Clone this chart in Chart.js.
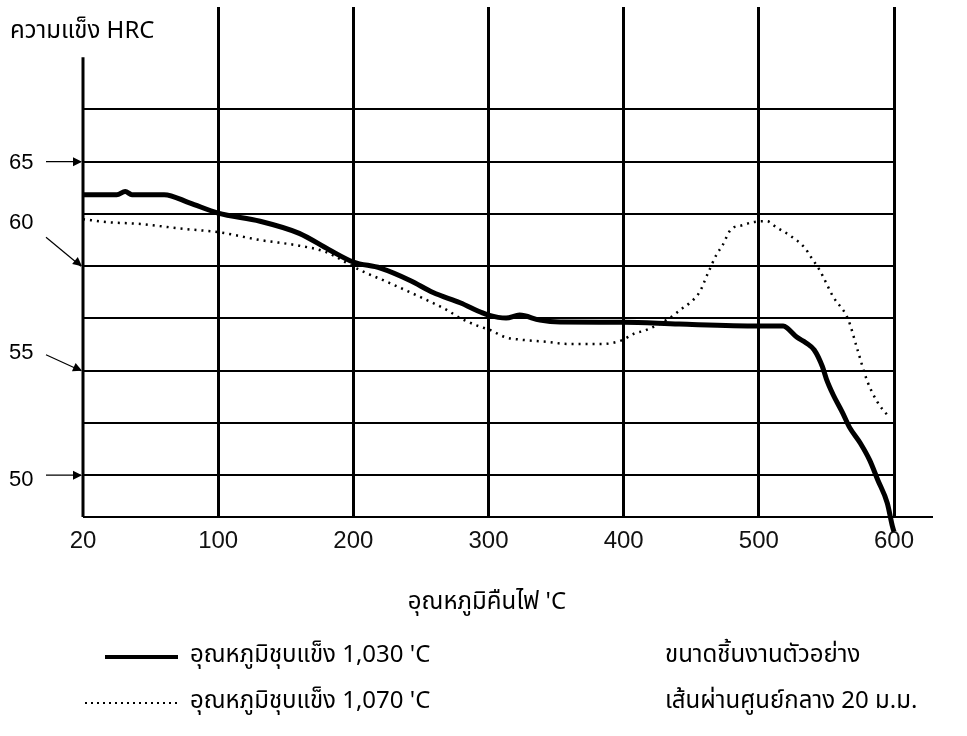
<!DOCTYPE html>
<html>
<head>
<meta charset="utf-8">
<script src="https://cdn.jsdelivr.net/npm/chart.js@4.4.1/dist/chart.umd.min.js"></script>
<style>
  html, body { margin: 0; padding: 0; background: #fff; }
  canvas { display: block; }
</style>
</head>
<body>
<canvas id="hrcChart" width="967" height="736"></canvas>
<script>
// tick labels of the temperature axis (grid is evenly spaced, 20 -> 100 takes a full step)
const xTickLabels = ['20', '100', '200', '300', '400', '500', '600'];
const yTickLabels = [65, 60, 55, 50];

// hardened at 1,030 C
const temp1030 = [20, 40, 45, 49, 68, 83, 100, 131, 160, 182, 200, 220, 242, 259, 279, 294, 300, 313, 323, 338, 353, 400, 441, 500, 518, 521, 528, 535, 541, 547, 550, 555, 562, 567, 575, 582, 588, 595, 599, 600];
const hrc1030 = [63.42, 63.42, 63.57, 63.42, 63.42, 63.03, 62.54, 62.15, 61.57, 60.79, 60.2, 59.91, 59.32, 58.74, 58.25, 57.81, 57.66, 57.52, 57.66, 57.42, 57.33, 57.32, 57.23, 57.14, 57.14, 57.04, 56.61, 56.33, 55.99, 55.2, 54.6, 53.85, 52.98, 52.3, 51.54, 50.72, 49.77, 48.67, 47.51, 47.3];

// hardened at 1,070 C
const temp1070 = [20, 34, 54, 65, 83, 100, 131, 160, 179, 205, 227, 249, 269, 279, 291, 301, 313, 323, 345, 358, 385, 398, 408, 416, 434, 443, 449, 456, 462, 469, 473, 479, 488, 496, 506, 513, 523, 534, 538, 545, 555, 566, 573, 580, 588, 595];
const hrc1070 = [62.25, 62.11, 62.02, 61.92, 61.76, 61.63, 61.25, 60.98, 60.69, 59.81, 59.19, 58.54, 57.91, 57.52, 57.17, 56.95, 56.59, 56.49, 56.37, 56.28, 56.28, 56.44, 56.78, 56.93, 57.52, 57.96, 58.25, 58.74, 59.61, 60.59, 60.98, 61.73, 61.96, 62.11, 62.15, 61.86, 61.47, 60.88, 60.49, 59.81, 58.54, 57.47, 56.0, 54.54, 53.47, 52.88];

const seriesLabels = ["อุณหภูมิชุบแข็ง 1,030 'C", "อุณหภูมิชุบแข็ง 1,070 'C"];
const noteLines = ['ขนาดชิ้นงานตัวอย่าง', 'เส้นผ่านศูนย์กลาง 20 ม.ม.'];
const yTitle = 'ความแข็ง HRC';
const xTitle = "อุณหภูมิคืนไฟ 'C";

const thaiFont = "'Noto Sans Thai', 'Noto Sans', 'DejaVu Sans', sans-serif";
const numFont = "'Liberation Sans', Arial, sans-serif";

// 20..100 is stretched over one grid step, above 100 each step is 100 C
function toPos(t) {
    return t <= 100 ? (t - 20) / 80 : t / 100;
}
function pts(ts, vs) {
    return ts.map((t, i) => ({ x: toPos(t), y: vs[i] }));
}

function arrowHead(ctx, x0, y0, x1, y1) {
    const a = Math.atan2(y1 - y0, x1 - x0);
    const len = 9, w = 4.5;
    ctx.beginPath();
    ctx.moveTo(x1, y1);
    ctx.lineTo(x1 - len * Math.cos(a) + w * Math.sin(a), y1 - len * Math.sin(a) - w * Math.cos(a));
    ctx.lineTo(x1 - len * Math.cos(a) - w * Math.sin(a), y1 - len * Math.sin(a) + w * Math.cos(a));
    ctx.closePath();
    ctx.fill();
}

const decorations = {
    id: 'decorations',
    afterDraw(chart, args, opts) {
        const ctx = chart.ctx;
        const { left, right, bottom } = chart.chartArea;
        const ys = chart.scales.y;
        ctx.save();
        ctx.strokeStyle = '#000';
        ctx.fillStyle = '#000';

        // left axis, starts a bit above the top grid line
        ctx.lineWidth = 3;
        ctx.beginPath();
        ctx.moveTo(left, ys.getPixelForValue(70));
        ctx.lineTo(left, bottom);
        ctx.stroke();

        // bottom axis runs past the 600 line
        ctx.lineWidth = 2;
        ctx.beginPath();
        ctx.moveTo(left, bottom);
        ctx.lineTo(right + opts.axisOverhang, bottom);
        ctx.stroke();

        // y labels with their arrows
        ctx.font = '22px ' + numFont;
        ctx.textBaseline = 'middle';
        ctx.textAlign = 'left';
        ctx.lineWidth = 1.2;
        yTickLabels.forEach((v, i) => {
            const yv = ys.getPixelForValue(v);
            const dy = opts.labelShift[i];
            ctx.fillText(String(v), 9, yv + dy);
            const x0 = 46, y0 = yv + dy + opts.arrowStart[i];
            ctx.beginPath();
            ctx.moveTo(x0, y0);
            ctx.lineTo(left - 2, yv);
            ctx.stroke();
            arrowHead(ctx, x0, y0, left - 1, yv);
        });

        // titles
        ctx.font = '24px ' + thaiFont;
        ctx.fillText(yTitle, 10, 33);
        ctx.textAlign = 'center';
        ctx.fillText(xTitle, 487, 604);

        // legend
        ctx.textAlign = 'left';
        const rows = [657, 703];
        chart.data.datasets.forEach((ds, i) => {
            ctx.save();
            ctx.strokeStyle = ds.borderColor;
            ctx.lineWidth = i === 0 ? 4 : 2;
            ctx.setLineDash(i === 0 ? [] : [2, 4]);
            ctx.beginPath();
            ctx.moveTo(i === 0 ? 105 : 85, rows[i]);
            ctx.lineTo(178, rows[i]);
            ctx.stroke();
            ctx.restore();
            ctx.fillText(seriesLabels[i], 190, rows[i]);
            ctx.fillText(noteLines[i], 665, rows[i]);
        });
        ctx.restore();
    }
};

new Chart(document.getElementById('hrcChart'), {
    type: 'line',
    data: {
        datasets: [
            {
                label: seriesLabels[0],
                data: pts(temp1030, hrc1030),
                borderColor: '#000',
                borderWidth: 5,
                pointRadius: 0,
                cubicInterpolationMode: 'monotone',
                clip: false
            },
            {
                label: seriesLabels[1],
                data: pts(temp1070, hrc1070),
                borderColor: '#000',
                borderWidth: 2.5,
                borderDash: [2, 5],
                pointRadius: 0,
                cubicInterpolationMode: 'monotone'
            }
        ]
    },
    options: {
        responsive: false,
        animation: false,
        devicePixelRatio: 1,
        layout: { padding: { left: 83, right: 73, top: 7, bottom: 179 } },
        plugins: {
            legend: { display: false },
            tooltip: { enabled: false },
            decorations: {
                axisOverhang: 39,
                labelShift: [1, -43, -18, 5],
                arrowStart: [-1, 14, 2, -5]
            }
        },
        scales: {
            x: {
                type: 'linear',
                min: 0,
                max: 6,
                afterFit: s => { s.height = 40; },
                border: { display: false },
                grid: {
                    color: c => c.index === 0 ? 'rgba(0,0,0,0)' : '#000',
                    lineWidth: 3,
                    drawTicks: false
                },
                ticks: {
                    stepSize: 1,
                    padding: 10,
                    color: '#111',
                    font: { family: numFont, size: 24 },
                    callback: v => xTickLabels[v]
                }
            },
            y: {
                min: 48,
                max: 72.4,
                afterFit: s => { s.width = 0; },
                border: { display: false },
                grid: {
                    color: c => c.tick.value > 67.5 ? 'rgba(0,0,0,0)' : '#000',
                    lineWidth: 2,
                    drawTicks: false
                },
                ticks: { display: false, stepSize: 2.5 }
            }
        }
    },
    plugins: [decorations]
});
</script>
</body>
</html>
